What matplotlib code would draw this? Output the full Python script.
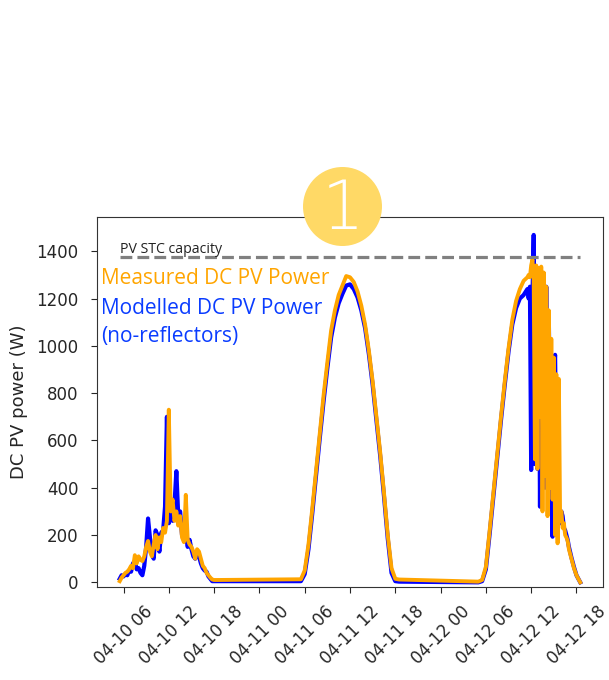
import numpy as np
import pandas as pd
import matplotlib
matplotlib.use("Agg")
import matplotlib.pyplot as plt
from matplotlib.patches import Ellipse

# Sampling times (year is not shown on the chart)
day1_times = pd.date_range("2019-04-10 05:30", "2019-04-10 18:30", freq="15min")
day2_times = pd.date_range("2019-04-11 05:30", "2019-04-11 18:30", freq="30min")
day3_times = pd.DatetimeIndex(
    list(pd.date_range("2019-04-12 05:00", "2019-04-12 11:30", freq="30min"))
    + list(pd.date_range("2019-04-12 11:40", "2019-04-12 16:50", freq="10min"))
    + list(pd.to_datetime(["2019-04-12 17:00", "2019-04-12 17:20", "2019-04-12 17:40",
                           "2019-04-12 18:00", "2019-04-12 18:30"]))
)

# Measured DC PV power (W)
measured_day1 = [5, 20, 30, 40, 45, 55, 70, 60, 115, 80, 110, 95, 90, 110, 150, 175,
                 130, 110, 160, 200, 140, 190, 170, 230, 210, 260, 730, 300, 350, 260,
                 300, 240, 280, 190, 170, 370, 180, 160, 150, 130, 100, 140, 130, 100,
                 70, 60, 40, 30, 20, 12, 10, 10, 10]
measured_day2 = [13, 50, 160, 310, 470, 630, 790, 930, 1065, 1150, 1215, 1255, 1295,
                 1290, 1270, 1230, 1170, 1090, 980, 850, 700, 550, 380, 200, 60, 15, 12]
measured_day3 = [3, 10, 66, 220, 380, 540, 700, 850, 990, 1110, 1190, 1240, 1275, 1290,
                 1300, 1290, 1340, 1365, 1290, 520, 1340, 480, 1330, 700, 1335, 300,
                 1310, 450, 1250, 280, 1150, 400, 1030, 350, 950, 200, 880, 165, 860,
                 260, 300, 230, 250, 200, 190, 175,
                 140, 100, 60, 30, 0]

# Modelled DC PV power, no reflectors (W)
modelled_day1 = [15, 30, 25, 35, 30, 50, 45, 80, 90, 55, 60, 40, 30, 70, 150, 270,
                 190, 120, 100, 220, 200, 130, 210, 220, 320, 700, 250, 330, 260, 330,
                 470, 280, 300, 200, 250, 200, 150, 180, 140, 110, 100, 130, 110, 80,
                 60, 50, 45, 25, 15, 5, 5, 5, 5]
modelled_day2 = [5, 35, 140, 290, 450, 610, 765, 905, 1035, 1120, 1180, 1220, 1255,
                 1260, 1240, 1205, 1150, 1075, 965, 835, 685, 535, 365, 185, 40, 5, 3]
modelled_day3 = [0, 5, 55, 205, 365, 525, 685, 835, 975, 1090, 1160, 1200, 1215, 1240,
                 1200, 1250, 475, 1200, 1469, 500, 1300, 480, 1280, 320, 1250, 900,
                 1200, 400, 1250, 600, 1124, 700, 900, 193, 850, 962, 500, 260, 300,
                 250, 300, 280, 230, 220, 200, 180,
                 150, 105, 65, 30, 0]

stc_capacity = 1375

times = day1_times.append(day2_times).append(day3_times)
measured = measured_day1 + measured_day2 + measured_day3
modelled = modelled_day1 + modelled_day2 + modelled_day3

W, H = 609, 680
fig = plt.figure(figsize=(W / 100, H / 100), dpi=100)
ax = fig.add_axes([0.1588, 0.1363, 0.8318, 0.545])

ax.plot(times, modelled, color="blue", lw=3.0, solid_joinstyle="round")
ax.plot(times, measured, color="orange", lw=2.8, solid_joinstyle="round")
ax.plot([times[0], times[-1]], [stc_capacity, stc_capacity], color="grey", lw=2.3, ls="--")

ax.set_ylim(-21, 1546)
ax.set_yticks([0, 200, 400, 600, 800, 1000, 1200, 1400])
ax.xaxis.set_major_locator(matplotlib.dates.HourLocator(byhour=[0, 6, 12, 18]))
ax.xaxis.set_major_formatter(matplotlib.dates.DateFormatter("%m-%d %H"))
for lbl in ax.get_xticklabels():
    lbl.set_rotation(45)

for s in ax.spines.values():
    s.set_color("#333333")
ax.tick_params(axis="both", colors="#262626", labelsize=12, length=4)
ax.tick_params(axis="y", pad=9)
ax.tick_params(axis="x", pad=7)
ax.set_ylabel("DC PV power (W)", fontsize=13, color="#262626", labelpad=6)

ax.text(0.045, 0.903, "PV STC capacity", transform=ax.transAxes, fontsize=10.2,
        family="Open Sans", color="#222222", va="baseline")
ax.text(0.009, 0.832, "Measured DC PV Power", transform=ax.transAxes, fontsize=15,
        family="Open Sans", color="orange", va="center")
ax.text(0.009, 0.7536, "Modelled DC PV Power", transform=ax.transAxes, fontsize=15,
        family="Open Sans", color="#0A3CFF", va="center")
ax.text(0.009, 0.676, "(no-reflectors)", transform=ax.transAxes, fontsize=15,
        family="Open Sans", color="#0A3CFF", va="center")

# numbered marker above the plot
cx, cy, d = 342.5 / W, 1 - 206.5 / H, 79
badge = Ellipse((cx, cy), d / W, d / H, transform=fig.transFigure,
                facecolor="#FFD966", edgecolor="none", zorder=5)
fig.patches.append(badge)
fig.text(cx, 1 - 210 / H, "1", ha="center", va="center", fontsize=48, color="white",
         fontweight="light", zorder=6)

fig.savefig("out.png", dpi=100)
